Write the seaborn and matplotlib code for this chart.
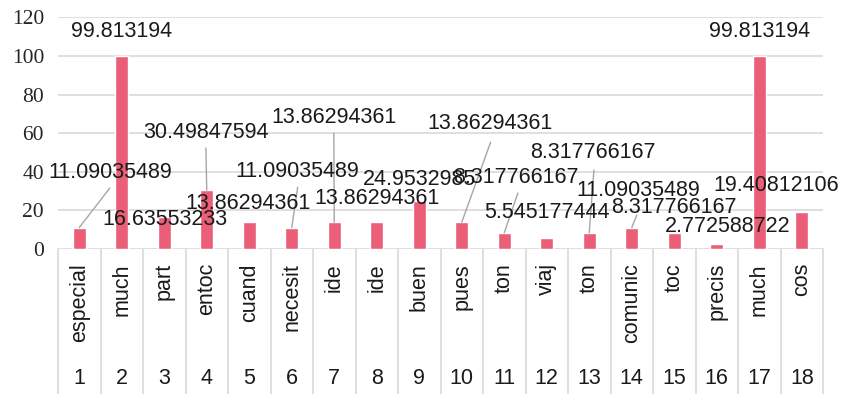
import matplotlib
matplotlib.use("Agg")
import matplotlib.pyplot as plt
import matplotlib.transforms as mtransforms
import seaborn as sns
import pandas as pd

# Category words and their row numbers
words = ["especial", "much", "part", "entoc", "cuand", "necesit", "ide", "ide", "buen",
         "pues", "ton", "viaj", "ton", "comunic", "toc", "precis", "much", "cos"]
numbers = [str(i) for i in range(1, 19)]
values = [11.09035489, 99.813194, 16.63553233, 30.49847594, 13.86294361, 11.09035489,
          13.86294361, 13.86294361, 24.9532985, 13.86294361, 8.317766167, 5.545177444,
          8.317766167, 11.09035489, 8.317766167, 2.772588722, 99.813194, 19.40812106]
y_ticks = [0, 20, 40, 60, 80, 100, 120]

# Label placement (data coordinates of label centres)
label_pos = [(0.74, 39.8), (1.0, 112.8), (2.01, 15.5), (2.98, 60.5), (3.96, 23.8),
             (5.14, 40.4), (5.99, 68.3), (7.0, 26.4), (8.01, 36.2), (9.66, 65.2),
             (10.27, 37.2), (11.0, 19.1), (12.08, 50.2), (13.16, 30.5), (14.0, 21.7),
             (15.26, 11.4), (16.0, 112.8), (16.39, 33.1)]
# Leader line start points for labels that sit away from their bar
leader_start = {0: (0.72, 31.6), 3: (2.98, 52.3), 5: (5.14, 32.1), 6: (5.99, 60.0),
                9: (9.68, 55.4), 10: (10.32, 29.0), 12: (12.11, 40.9), 13: (13.12, 17.6)}

df = pd.DataFrame({"num": numbers, "value": values})

sns.set_theme(style="white")
plt.rcParams["font.family"] = ["Liberation Sans", "DejaVu Sans"]

fig = plt.figure(figsize=(8.5, 3.94), dpi=100)
ax = fig.add_axes([58 / 850, 145 / 394, 765 / 850, 231.6 / 394])

bar_color = "#EB5E78"
grid_color = "#D9D9D9"

sns.barplot(data=df, x="num", y="value", order=numbers, color=bar_color,
            width=0.31, saturation=1, ax=ax, zorder=3)

ax.set_xlim(-0.5, len(values) - 0.5)
ax.set_ylim(0, 120)
ax.set_yticks(y_ticks)
ax.set_yticklabels([str(t) for t in y_ticks])
ax.tick_params(axis="y", length=0, pad=10, labelsize=15.5, labelcolor="#262626",
               labelfontfamily="Liberation Serif")
ax.set_xticks([])
ax.set_xlabel("")
ax.set_ylabel("")
for s in ax.spines.values():
    s.set_visible(False)
ax.yaxis.grid(True, color=grid_color, lw=1.2, zorder=0)
ax.set_axisbelow(True)

# Value labels and leader lines
for i, (v, (lx, ly)) in enumerate(zip(values, label_pos)):
    if i in leader_start:
        sx, sy = leader_start[i]
        ax.plot([sx, i], [sy, v], color="#A6A6A6", lw=1.0, zorder=4, clip_on=False)
    ax.text(lx, ly, f"{v:.10g}", ha="center", va="center", fontsize=15.5,
            color="#1A1A1A", zorder=5, clip_on=False)

# Category table below the axis
trans = mtransforms.blended_transform_factory(ax.transData, fig.transFigure)
y_axis_fig = 145 / 394
for b in [k - 0.5 for k in range(len(values) + 1)]:
    ax.plot([b, b], [y_axis_fig, 0], color=grid_color, lw=1.2, transform=trans,
            clip_on=False, zorder=1)
for i, (w, n) in enumerate(zip(words, numbers)):
    ax.text(i, (394 - 263) / 394, w, rotation=90, ha="center", va="top",
            fontsize=15.5, color="#1A1A1A", transform=trans)
    ax.text(i, (394 - 379) / 394, n, ha="center", va="center",
            fontsize=15.5, color="#1A1A1A", transform=trans)

fig.savefig("out.png", dpi=100, facecolor="white")
